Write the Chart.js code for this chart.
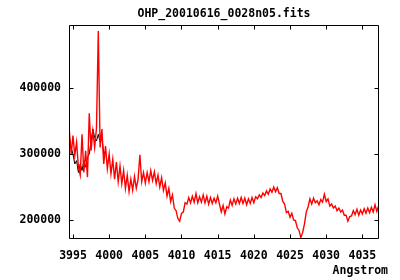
<!DOCTYPE html>
<html><head><meta charset="utf-8">
<script src="https://cdn.jsdelivr.net/npm/chart.js@4"></script>
<style>html,body{margin:0;padding:0;background:#fff}</style>
</head>
<body>
<canvas id="c" width="400" height="280"></canvas>
<script>
const titleText = 'OHP_20010616_0028n05.fits';
const xAxisLabel = 'Angstrom';
const xTicks = [3995, 4000, 4005, 4010, 4015, 4020, 4025, 4030, 4035];
const yTicks = [200000, 300000, 400000];

const wavelength = [
3994.50,3994.75,3995.00,3995.25,3995.50,3995.75,3996.00,3996.25,3996.50,3996.75,
3997.00,3997.25,3997.50,3997.75,3998.00,3998.25,3998.50,3998.75,3999.00,3999.25,
3999.50,3999.75,4000.00,4000.25,4000.50,4000.75,4001.00,4001.25,4001.50,4001.75,
4002.00,4002.25,4002.50,4002.75,4003.00,4003.25,4003.50,4003.75,4004.00,4004.25,
4004.50,4004.75,4005.00,4005.25,4005.50,4005.75,4006.00,4006.25,4006.50,4006.75,
4007.00,4007.25,4007.50,4007.75,4008.00,4008.25,4008.50,4008.75,4009.00,4009.25,
4009.50,4009.75,4010.00,4010.25,4010.50,4010.75,4011.00,4011.25,4011.50,4011.75,
4012.00,4012.25,4012.50,4012.75,4013.00,4013.25,4013.50,4013.75,4014.00,4014.25,
4014.50,4014.75,4015.00,4015.25,4015.50,4015.75,4016.00,4016.25,4016.50,4016.75,
4017.00,4017.25,4017.50,4017.75,4018.00,4018.25,4018.50,4018.75,4019.00,4019.25,
4019.50,4019.75,4020.00,4020.25,4020.50,4020.75,4021.00,4021.25,4021.50,4021.75,
4022.00,4022.25,4022.50,4022.75,4023.00,4023.25,4023.50,4023.75,4024.00,4024.25,
4024.50,4024.75,4025.00,4025.25,4025.50,4025.75,4026.00,4026.25,4026.50,4026.75,
4027.00,4027.25,4027.50,4027.75,4028.00,4028.25,4028.50,4028.75,4029.00,4029.25,
4029.50,4029.75,4030.00,4030.25,4030.50,4030.75,4031.00,4031.25,4031.50,4031.75,
4032.00,4032.25,4032.50,4032.75,4033.00,4033.25,4033.50,4033.75,4034.00,4034.25,
4034.50,4034.75,4035.00,4035.25,4035.50,4035.75,4036.00,4036.25,4036.50,4036.75,
4037.00,4037.25
];

const flux = [
335000,300000,328000,298000,318000,280000,268000,330000,272000,305000,
265000,362000,305000,335000,310000,340000,487000,310000,338000,285000,
312000,278000,300000,270000,292000,262000,288000,258000,282000,255000,
275000,248000,268000,243000,262000,245000,266000,248000,262000,299000,
258000,272000,256000,272000,258000,275000,260000,273000,255000,268000,
250000,264000,245000,256000,236000,248000,228000,238000,218000,214000,
202000,198000,210000,212000,226000,224000,234000,226000,236000,227000,
240000,226000,235000,227000,238000,226000,236000,224000,234000,225000,
233000,226000,236000,224000,212000,222000,209000,220000,218000,230000,
222000,232000,224000,233000,225000,234000,225000,233000,223000,232000,
225000,234000,226000,235000,232000,238000,234000,241000,237000,244000,
239000,247000,242000,250000,243000,249000,240000,240000,228000,224000,
211000,213000,204000,210000,200000,199000,188000,184000,173000,181000,
194000,212000,220000,232000,224000,233000,226000,229000,223000,231000,
227000,239000,228000,232000,221000,224000,218000,221000,214000,218000,
212000,215000,207000,207000,198000,205000,206000,214000,208000,216000,
207000,215000,209000,217000,210000,218000,211000,219000,212000,223000,
213000,221000
];

const wavelengthRaw = [
3994.50,3994.75,3995.00,3995.25,3995.50,3995.75,3996.00,3996.25,3996.50,3996.75,
3997.00,3997.25,3997.50,3997.75,3998.00,3998.25,3998.50,3998.75,3999.00,3999.25,
3999.50
];
const fluxRaw = [
325000,310000,300000,285000,290000,272000,285000,275000,290000,280000,
295000,300000,320000,338000,325000,320000,330000,318000,325000,300000,
305000
];

const FONT = {family: '"DejaVu Sans Mono", monospace', size: 11.5, weight: 'bold'};

const framePlugin = {
  id: 'frame',
  afterDraw(chart) {
    const {ctx, chartArea: a, scales: {x, y}} = chart;
    ctx.save();
    ctx.strokeStyle = '#000';
    ctx.lineWidth = 1;
    const L = Math.round(a.left) + 0.5, R = Math.round(a.right) - 0.5;
    const T = Math.round(a.top) + 0.5, B = Math.round(a.bottom) - 0.5;
    ctx.beginPath();
    ctx.rect(L, T, R - L, B - T);
    const tl = 4;
    xTicks.forEach(v => {
      const p = Math.round(x.getPixelForValue(v)) + 0.5;
      ctx.moveTo(p, B); ctx.lineTo(p, B - tl);
      ctx.moveTo(p, T); ctx.lineTo(p, T + tl);
    });
    yTicks.forEach(v => {
      const p = Math.round(y.getPixelForValue(v)) + 0.5;
      ctx.moveTo(L, p); ctx.lineTo(L + tl, p);
      ctx.moveTo(R, p); ctx.lineTo(R - tl, p);
    });
    ctx.stroke();
    ctx.fillStyle = '#000';
    ctx.font = 'bold 11.5px "DejaVu Sans Mono", monospace';
    ctx.textAlign = 'right';
    ctx.textBaseline = 'middle';
    ctx.fillText(xAxisLabel, 388, 271);
    ctx.restore();
  }
};

new Chart(document.getElementById('c'), {
  type: 'line',
  data: {
    datasets: [
      {
        data: wavelength.map((w, i) => ({x: w, y: flux[i]})),
        borderColor: '#ff0000', borderWidth: 1.4, pointRadius: 0, tension: 0, order: 0
      },
      {
        data: wavelengthRaw.map((w, i) => ({x: w, y: fluxRaw[i]})),
        borderColor: '#000000', borderWidth: 1, pointRadius: 0, tension: 0, order: 1
      }
    ]
  },
  options: {
    responsive: false,
    animation: false,
    devicePixelRatio: 1,
    layout: {padding: {left: 0, right: 21, top: 0, bottom: 0}},
    plugins: {
      legend: {display: false},
      tooltip: {enabled: false},
      title: {display: true, fullSize: false, text: titleText, color: '#000', font: FONT, padding: {top: 7, bottom: 4.2}}
    },
    scales: {
      x: {
        type: 'linear', min: 3994.45, max: 4037.3,
        grid: {display: false, drawTicks: false},
        border: {display: false},
        ticks: {font: FONT, color: '#000', padding: 10, maxRotation: 0, autoSkip: false, callback: v => String(v)},
        afterBuildTicks: s => { s.ticks = xTicks.map(v => ({value: v})); },
        afterFit: s => { s.height = 41; }
      },
      y: {
        type: 'linear', min: 171000, max: 496000,
        grid: {display: false, drawTicks: false},
        border: {display: false},
        ticks: {font: FONT, color: '#000', padding: 8, callback: v => String(v)},
        afterBuildTicks: s => { s.ticks = yTicks.map(v => ({value: v})); },
        afterFit: s => { s.width = 69; }
      }
    }
  },
  plugins: [framePlugin]
});
</script>
</body></html>
